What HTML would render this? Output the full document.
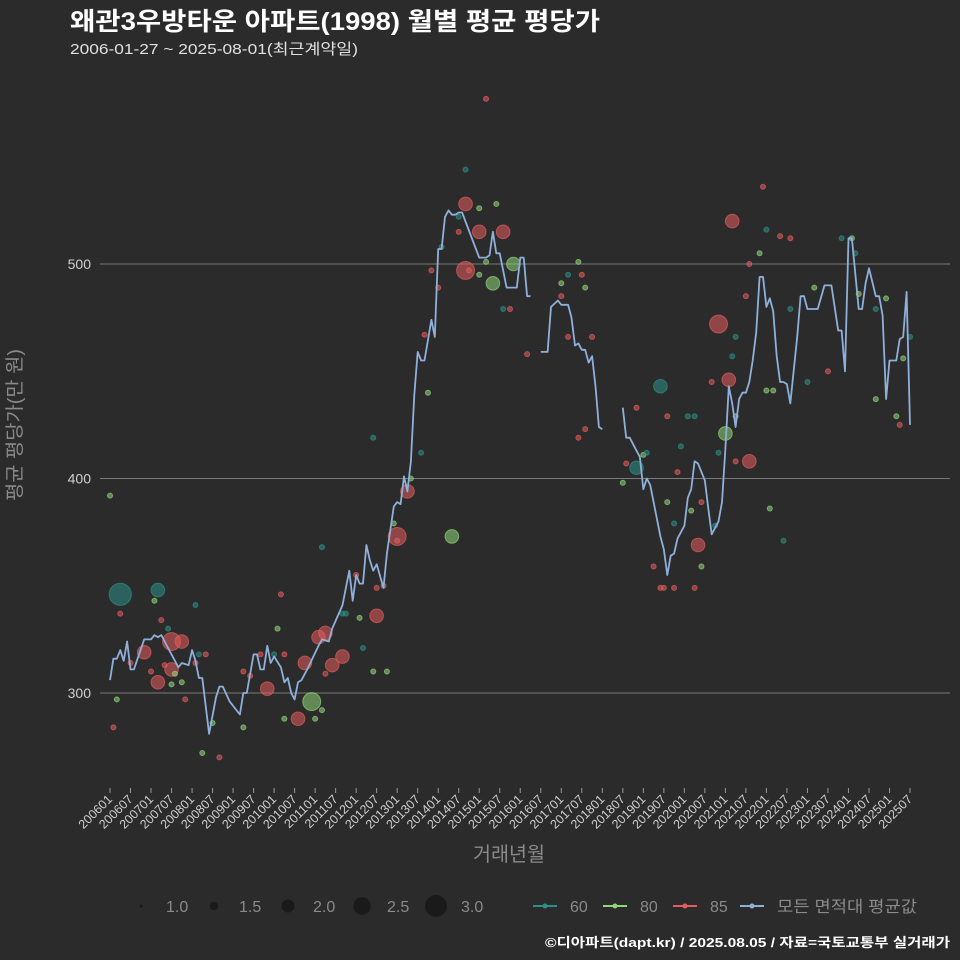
<!DOCTYPE html>
<html><head><meta charset="utf-8">
<style>
html,body{margin:0;padding:0;background:#2b2b2b;}
svg{display:block;font-family:"Liberation Sans","Noto Sans CJK KR",sans-serif;}
</style></head>
<body>
<svg id="chart" width="960" height="960" viewBox="0 0 960 960" xmlns="http://www.w3.org/2000/svg">
<rect width="960" height="960" fill="#2b2b2b"/>
<text x="70" y="30" fill="#ffffff" font-size="25" font-weight="bold" textLength="530" lengthAdjust="spacingAndGlyphs">왜관3우방타운 아파트(1998) 월별 평균 평당가</text>
<text x="70" y="54" fill="#e0e0e0" font-size="15" textLength="288" lengthAdjust="spacingAndGlyphs">2006-01-27 ~ 2025-08-01(최근계약일)</text>
<g id="grid"></g>
<g id="yticks"></g>
<text transform="translate(21,425) rotate(-90)" text-anchor="middle" fill="#8a8a8a" font-size="19" textLength="152" lengthAdjust="spacingAndGlyphs">평균 평당가(만 원)</text>
<g id="points"></g>
<g id="line"></g>
<g id="xticks"></g>
<text x="509" y="861" text-anchor="middle" fill="#8a8a8a" font-size="20" textLength="72" lengthAdjust="spacingAndGlyphs">거래년월</text>
<g id="legend"></g>
<text x="950" y="947" text-anchor="end" fill="#ffffff" font-size="13" font-weight="bold" textLength="405" lengthAdjust="spacingAndGlyphs">©디아파트(dapt.kr) / 2025.08.05 / 자료=국토교통부 실거래가</text>
</svg>
<script>
const yTicks=[300,400,500];
const xTickLabels=[];
for(let y=2006;y<=2025;y++){xTickLabels.push(y+"01");xTickLabels.push(y+"07");}
// average line: month index from 2006-01, value; null = gap
const lineMonths=[0,1,2,3,4,5,6,7,10,12,13,14,15,17,20,21,23,24,25,26,27,29,31,32,33,35,38,39,40,42,43,44,45,46,47,48,50,51,52,53,54,55,56,58,61,62,64,65,68,70,71,72,73,74,75,76,77,78,80,81,83,84,85,86,87,88,89,90,91,92,94,95,96,97,98,99,100,101,102,103,108,110,111,112,113,114,116,119,120,121,122,123,
 124,
 126,128,129,131,132,133,134,135,136,137,138,139,140,141,142,143,
 144,
 149,150,151,152,153,155,156,157,158,159,161,162,163,164,165,166,168,169,170,171,172,173,174,175,176,177,178,179,180,181,182,183,184,185,186,187,188,189,190,191,192,193,194,195,196,197,198,199,201,202,203,204,206,207,209,211,213,214,215,216,217,219,220,221,222,224,225,226,227,228,229,230,231,232,233,234];
const lineValues=[306,316,316,320,315,324,311,311,325,325,327,326,327,321,312,314,313,320,315,307,307,281,298,303,303,296,290,300,300,318,318,311,311,322,314,317,312,305,307,300,297,305,306,312,322,325,324,330,341,357,343,355,351,351,369,362,357,360,349,365,387,389,388,401,394,408,439,459,455,455,474,466,507,507,522,525,523,523,524,524,503,503,504,515,505,505,489,489,503,503,485,485,
 null,
 459,459,480,483,481,481,481,475,462,463,460,460,454,457,443,424,423,
 null,
 433,419,419,416,410,395,400,397,389,373,367,355,364,365,372,378,391,395,408,407,403,399,386,374,377,380,389,414,443,435,424,437,440,440,445,455,468,494,494,480,484,478,457,445,445,444,435,466,485,485,479,479,479,490,490,469,469,450,512,512,479,479,491,498,485,485,476,437,455,455,455,465,466,487,425,438,420,420,420,429,451,443];
// scatter: month index, value, area type, size
const ptMonths=[3,14,10,14,18,21,18,46,55,59,57,61,63,65,68,78,84,87,100,104,108,104,112,115,118,182,178,181,180,187,161,154,172,
 0,2,1,3,6,12,15,17,25,13,18,19,21,22,25,26,16,28,27,30,39,32,39,41,44,51,48,50,49,51,60,62,63,68,62,73,74,69,72,78,77,80,81,83,84,77,93,88,91,92,94,96,97,102,104,110,113,108,102,105,110,108,115,117,122,
 132,137,138,134,139,132,134,141,139,137,150,154,156,157,151,166,167,169,171,163,163,165,170,173,159,161,162,165,171,173,177,178,183,183,183,182,176,186,187,191,192,199,196,190,192,194,193,197,199,204,206,210,217,218,214,224,227,219,224,231,234,232,230];
const ptValues=[346,348,319,305,324,324,311,302,288,296,314,326,328,313,317,336,373,394,373,528,515,497,491,515,500,520,472,446,421,408,443,405,369,392,
 297,284,337,314,310,334,330,341,343,304,309,305,297,314,318,313,318,272,286,284,270,310,308,318,318,318,346,330,288,288,292,309,337,368,335,321,337,355,349,310,350,310,379,371,419,440,400,412,467,497,489,508,522,544,577,528,526,515,497,501,495,479,479,458,485,
 501,495,495,489,491,466,466,423,419,398,433,411,412,407,403,415,429,429,429,389,379,385,359,359,349,349,349,349,389,378,412,429,408,466,457,445,485,500,536,516,512,513,505,441,441,386,371,479,445,489,450,512,505,512,479,484,486,437,425,466,456,429,363];
const ptTypes=["60","60","85","85","85","85","85","85","85","80","85","85","85","85","85","85","85","85","80","85","85","85","80","85","80","85","85","85","80","85","60","60","85",
 "80","80","85","85","85","85","85","60","60","80","80","80","80","85","85","60","85","85","80","80","80","85","85","85","85","85","60","85","80","80","80","80","85","60","60","80","60","60","85","85","80","85","80","80","85","60","80","80","60","85","85","85","60","60","60","85","80","80","85","85","80","80","60","85","85",
 "85","80","85","60","80","80","85","85","85","85","80","85","80","60","85","85","60","60","60","85","80","60","80","80","85","85","85","85","85","85","60","60","80","85","60","60","85","85","85","85","60","85","85","80","80","80","80","60","60","60","80","85","80","60","60","60","80","80","80","85","60","80","80"];
const ptSizes=[3,2,2,2,2.5,2,2,2,2,2.5,2,2,2,2,2,2,2.5,2,2,2,2,2.5,2,2,2,2,2.5,2,2,2,2,2,2];

const NS="http://www.w3.org/2000/svg";
const X0=110, XPM=3.4188, Y300=693, PPU=2.145;
const xs=m=>X0+m*XPM;
const ys=v=>Y300-(v-300)*PPU;
const colors={"60":"#2e8f86","80":"#8fd67a","85":"#e35d5d"};
function mk(tag,attrs,parent){const e=document.createElementNS(NS,tag);for(const k in attrs)e.setAttribute(k,attrs[k]);parent.appendChild(e);return e;}

const grid=document.getElementById('grid'), yt=document.getElementById('yticks');
yTicks.forEach(v=>{
  const l=mk('line',{x1:100,x2:950,y1:ys(v),y2:ys(v),stroke:'#7a7a7a','stroke-width':1},grid);
  
  
  const t=mk('text',{x:91,y:ys(v)+5,'text-anchor':'end',fill:'#cfcfcf','font-size':14},yt);
  t.textContent=v;
  
  
});

const xt=document.getElementById('xticks');
xTickLabels.forEach((lab,i)=>{
  const m=i*6, x=xs(m);
  const tk=mk('line',{x1:x,x2:x,y1:788,y2:793,stroke:'#9a9a9a','stroke-width':1},xt);
  
  
  const t=mk('text',{x:x+3,y:800,'text-anchor':'end',fill:'#cfcfcf','font-size':12.5,transform:`rotate(-45 ${x+3} 800)`},xt);
  t.textContent=lab;
  
  
});

const pg=document.getElementById('points');
const rad=s=>2.5+(s-1)*4.3;
ptMonths.forEach((m,i)=>{
  const s=i<ptSizes.length?ptSizes[i]:1;
  const c=colors[ptTypes[i]];
  const p=mk('circle',{cx:xs(m),cy:ys(ptValues[i]),r:rad(s),fill:c,'fill-opacity':0.55,stroke:c,'stroke-opacity':0.7,'stroke-width':1},pg);
  
  
});

const lg=document.getElementById('line');
let segs=[],cur=[];
lineMonths.forEach((m,i)=>{const v=lineValues[i];if(v===null){if(cur.length)segs.push(cur);cur=[];}else cur.push(xs(m).toFixed(1)+','+ys(v).toFixed(1));});
if(cur.length)segs.push(cur);
segs.forEach(sg=>{
  const pl=mk('polyline',{points:sg.join(' '),fill:'none',stroke:'#8fb0db','stroke-width':1.8,'stroke-linejoin':'round'},lg);
  
  
});

const leg=document.getElementById('legend');
const sizeLeg=[1.0,1.5,2.0,2.5,3.0], sizeX=[141,214,288,362,436];
sizeLeg.forEach((s,i)=>{
  const c=mk('circle',{cx:sizeX[i],cy:906,r:s===1?1.5:2+(s-1)*4.5,fill:'#1a1a1a'},leg);
  
  
  const t=mk('text',{x:sizeX[i]+25,y:912,fill:'#8a8a8a','font-size':16},leg);
  t.textContent=s.toFixed(1);
  
  
});
const typeLeg=[["60","#2e8f86",545],["80","#8fd67a",615],["85","#e35d5d",685],["모든 면적대 평균값","#8fb0db",752]];
typeLeg.forEach(([lab,c,x])=>{
  const l=mk('line',{x1:x-12,x2:x+12,y1:906,y2:906,stroke:c,'stroke-width':2},leg);
  
  
  const d=mk('circle',{cx:x,cy:906,r:2.5,fill:c},leg);
  
  
  const attrs={x:x+25,y:912,fill:'#8a8a8a','font-size':16};
  if(lab.length>3){attrs.textLength=140;attrs.lengthAdjust='spacingAndGlyphs';}
  const t=mk('text',attrs,leg);
  t.textContent=lab;
  
  
});
</script>
</body></html>
